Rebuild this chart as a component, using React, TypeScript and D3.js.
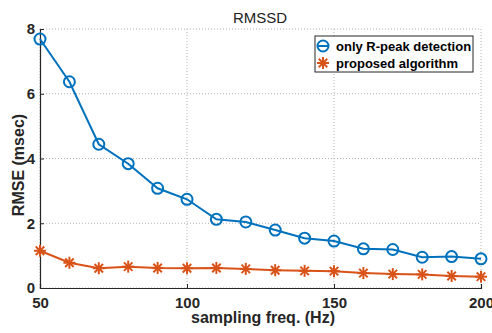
import React, { useEffect, useRef } from "react";
import * as d3 from "d3";

const freqs = [50, 60, 70, 80, 90, 100, 110, 120, 130, 140, 150, 160, 170, 180, 190, 200];
const rPeakOnly = [7.69, 6.37, 4.44, 3.84, 3.08, 2.74, 2.12, 2.04, 1.79, 1.54, 1.45, 1.21, 1.19, 0.95, 0.97, 0.9];
const proposed = [1.15, 0.78, 0.61, 0.66, 0.62, 0.61, 0.62, 0.59, 0.55, 0.53, 0.52, 0.46, 0.43, 0.42, 0.37, 0.35];
const xTicks = [50, 100, 150, 200];
const yTicks = [0, 2, 4, 6, 8];
const seriesNames = ["only R-peak detection", "proposed algorithm"];

export default function App() {
  const ref = useRef<SVGSVGElement>(null);

  useEffect(() => {
    const svg = d3.select(ref.current);
    svg.selectAll("*").remove();
    const width = 492;
    const height = 333;
    const margin = { top: 29, right: 11, bottom: 45, left: 40 };
    const w = width - margin.left - margin.right;
    const h = height - margin.top - margin.bottom;
    const font = "Liberation Sans, Arial, sans-serif";

    svg.append("rect").attr("width", width).attr("height", height).attr("fill", "#fff");
    const g = svg.append("g").attr("transform", `translate(${margin.left},${margin.top})`);

    const x = d3.scaleLinear().domain([50, 200]).range([0, w]);
    const y = d3.scaleLinear().domain([0, 8]).range([h, 0]);

    // grid
    g.selectAll(".gx").data(xTicks).join("line")
      .attr("x1", (d) => x(d)).attr("x2", (d) => x(d)).attr("y1", 0).attr("y2", h)
      .attr("stroke", "#b0b0b0").attr("stroke-dasharray", "1 2");
    g.selectAll(".gy").data(yTicks).join("line")
      .attr("x1", 0).attr("x2", w).attr("y1", (d) => y(d)).attr("y2", (d) => y(d))
      .attr("stroke", "#b0b0b0").attr("stroke-dasharray", "1 2");

    // axes
    const xa = g.append("g").attr("transform", `translate(0,${h})`)
      .call(d3.axisBottom(x).tickValues(xTicks).tickSize(-4).tickPadding(9));
    const ya = g.append("g").call(d3.axisLeft(y).tickValues(yTicks).tickSize(-4).tickPadding(5));
    [xa, ya].forEach((a) => {
      a.select(".domain").attr("stroke", "#262626").attr("stroke-width", 1.2);
      a.selectAll(".tick line").attr("stroke", "#262626");
      a.selectAll("text").attr("font-family", font).attr("font-size", 15).attr("font-weight", "bold").attr("fill", "#262626");
    });

    g.append("text").attr("x", 260 - margin.left).attr("y", 23 - margin.top).attr("text-anchor", "middle")
      .attr("font-family", font).attr("font-size", 15).attr("fill", "#222").text("RMSSD");
    g.append("text").attr("x", 263 - margin.left).attr("y", 323 - margin.top).attr("text-anchor", "middle")
      .attr("font-family", font).attr("font-size", 16).attr("font-weight", "bold").attr("fill", "#262626")
      .text("sampling freq. (Hz)");
    g.append("text").attr("transform", "rotate(-90)").attr("x", -(165 - margin.top)).attr("y", -16)
      .attr("text-anchor", "middle").attr("font-family", font).attr("font-size", 16).attr("font-weight", "bold")
      .attr("fill", "#262626").text("RMSE (msec)");

    const line = d3.line<[number, number]>().x((d) => x(d[0])).y((d) => y(d[1]));
    const blue = "#0072BD";
    const orange = "#D95319";
    const bluePts: [number, number][] = freqs.map((f, i) => [f, rPeakOnly[i]]);
    const orangePts: [number, number][] = freqs.map((f, i) => [f, proposed[i]]);

    const star = (sel: any, cx: number, cy: number, r: number) => {
      for (let k = 0; k < 4; k++) {
        const a = (k * Math.PI) / 4;
        sel.append("line")
          .attr("x1", cx - r * Math.cos(a)).attr("y1", cy - r * Math.sin(a))
          .attr("x2", cx + r * Math.cos(a)).attr("y2", cy + r * Math.sin(a))
          .attr("stroke", orange).attr("stroke-width", 2);
      }
    };

    g.append("path").attr("d", line(orangePts)).attr("fill", "none").attr("stroke", orange).attr("stroke-width", 2);
    orangePts.forEach((p) => star(g, x(p[0]), y(p[1]), 6));

    g.append("path").attr("d", line(bluePts)).attr("fill", "none").attr("stroke", blue).attr("stroke-width", 2);
    g.selectAll(".m").data(bluePts).join("circle")
      .attr("cx", (d) => x(d[0])).attr("cy", (d) => y(d[1])).attr("r", 5.5)
      .attr("fill", "none").attr("stroke", blue).attr("stroke-width", 2);

    // legend
    const lg = svg.append("g").attr("transform", "translate(315,36)");
    lg.append("rect").attr("width", 158).attr("height", 36).attr("fill", "#fff").attr("stroke", "#262626");
    lg.append("line").attr("x1", 2).attr("x2", 14).attr("y1", 10).attr("y2", 10).attr("stroke", blue).attr("stroke-width", 2);
    lg.append("circle").attr("cx", 8).attr("cy", 10).attr("r", 5.5).attr("fill", "none").attr("stroke", blue).attr("stroke-width", 2);
    lg.append("line").attr("x1", 2).attr("x2", 14).attr("y1", 27).attr("y2", 27).attr("stroke", orange).attr("stroke-width", 2);
    star(lg, 8, 27, 6);
    seriesNames.forEach((n, i) => {
      lg.append("text").attr("x", 21).attr("y", 14.5 + i * 17).attr("font-family", font).attr("font-size", 13)
        .attr("font-weight", "bold").attr("fill", "#000").text(n);
    });
  }, []);

  return <svg ref={ref} width={492} height={333} style={{ position: "absolute", left: 0, top: 0 }} />;
}
